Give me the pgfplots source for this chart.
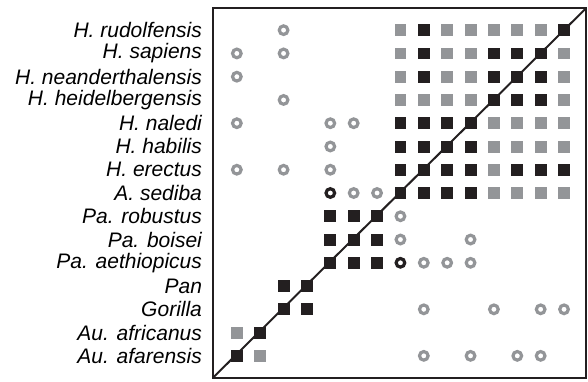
\documentclass[border=0pt]{standalone}
\usepackage{fontspec}
\setmainfont{Liberation Sans}
\usepackage{pgfplots}
\pgfplotsset{compat=1.18}
\definecolor{blk}{HTML}{231F20}
\definecolor{gry}{HTML}{939598}
\begin{document}
\begin{tikzpicture}
\path[use as bounding box] (-106.5pt,-1.65pt) rectangle (187.5pt,188.85pt);
\begin{axis}[
  at={(0,0)}, anchor=south west,
  scale only axis,
  width=186.5pt, height=184.7pt,
  xmin=-1.02, xmax=14.94, ymin=-0.94, ymax=14.94,
  xtick=\empty,
  ytick={0,...,14},
  yticklabels={Au. afarensis, Au. africanus, Gorilla, Pan, Pa. aethiopicus, Pa. boisei, Pa. robustus, A. sediba, H. erectus, H. habilis, H. naledi, H. heidelbergensis, H. neanderthalensis, H. sapiens, H. rudolfensis},
  major tick length=0pt,
  yticklabel style={font=\fontsize{10.5}{12}\selectfont\itshape, xshift=-2pt},
  axis line style={line width=1pt, draw=blk},
  clip=true,
]
\addplot[blk, line width=1pt, no marks] coordinates {(-1.02,-0.94) (14.94,14.94)};
% grey squares
\addplot[only marks, color=gry, mark=square*, mark size=2.72pt] coordinates {
(7,14) (9,14) (10,14) (11,14) (12,14) (13,14)
(7,13) (9,13) (10,13) (14,13)
(7,12) (9,12) (10,12) (14,12)
(7,11) (8,11) (9,11) (10,11) (14,11)
(11,10) (12,10) (13,10) (14,10)
(11,9) (12,9) (13,9) (14,9)
(11,8)
(11,7) (12,7) (13,7) (14,7)
(0,1)
(1,0)
};
% black squares
\addplot[only marks, color=blk, mark=square*, mark size=2.72pt] coordinates {
(8,14) (14,14)
(8,13) (11,13) (12,13) (13,13)
(8,12) (11,12) (12,12) (13,12)
(11,11) (12,11) (13,11)
(7,10) (8,10) (9,10) (10,10)
(7,9) (8,9) (9,9) (10,9)
(7,8) (8,8) (9,8) (10,8) (12,8) (13,8) (14,8)
(7,7) (8,7) (9,7) (10,7)
(4,6) (5,6) (6,6)
(4,5) (5,5) (6,5)
(4,4) (5,4) (6,4)
(2,3) (3,3)
(2,2) (3,2)
(1,1)
(0,0)
};
% grey circles
\addplot[only marks, color=gry, mark=o, mark size=2.15pt, line width=1.6pt, mark options={line width=1.6pt}] coordinates {
(2,14)
(0,13) (2,13)
(0,12)
(2,11)
(0,10) (4,10) (5,10)
(4,9)
(0,8) (2,8) (4,8)
(5,7) (6,7)
(7,6)
(7,5) (10,5)
(8,4) (9,4) (10,4)
(8,2) (11,2) (13,2) (14,2)
(8,0) (10,0) (12,0) (13,0)
};
% black circles
\addplot[only marks, color=blk, mark=o, mark size=2.15pt, line width=1.6pt, mark options={line width=1.6pt}] coordinates {
(4,7) (7,4)
};
\end{axis}
\end{tikzpicture}
\end{document}
